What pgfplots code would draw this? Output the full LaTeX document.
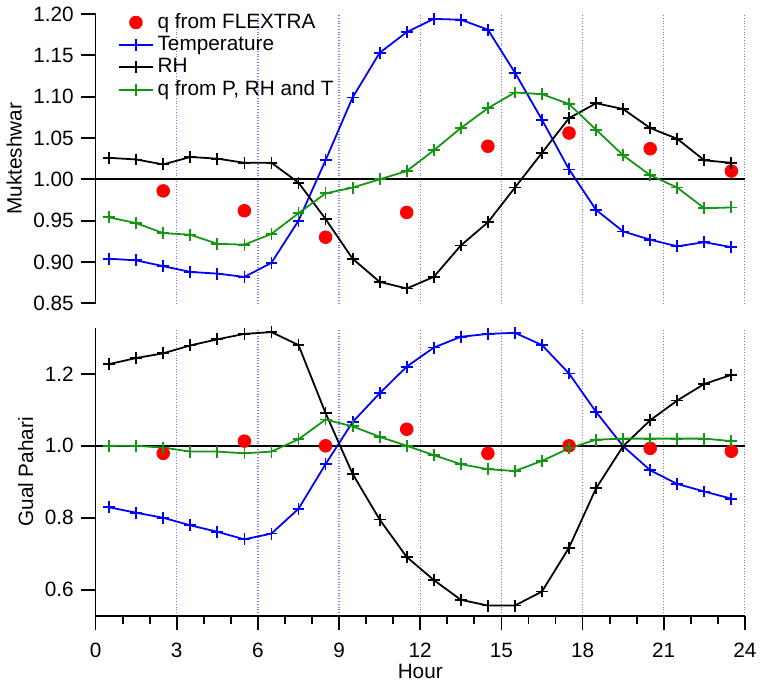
\documentclass[border=0pt]{standalone}
\usepackage{pgfplots}
\pgfplotsset{compat=1.18}
\usepackage{fontspec}
\setmainfont{Liberation Sans}
\definecolor{qgreen}{RGB}{20,150,20}
\definecolor{gridblue}{RGB}{120,120,255}

% top panel: Mukteshwar
\pgfplotstableread{
h    T      RH     q
0.5  0.904  1.026  0.954
1.5  0.902  1.024  0.947
2.5  0.895  1.018  0.935
3.5  0.888  1.027  0.933
4.5  0.886  1.025  0.922
5.5  0.882  1.020  0.921
6.5  0.899  1.020  0.934
7.5  0.950  0.996  0.959
8.5  1.023  0.952  0.983
9.5  1.099  0.904  0.990
10.5 1.153  0.876  1.000
11.5 1.178  0.868  1.010
12.5 1.194  0.882  1.035
13.5 1.193  0.920  1.062
14.5 1.181  0.948  1.086
15.5 1.129  0.990  1.105
16.5 1.072  1.032  1.103
17.5 1.012  1.074  1.091
18.5 0.963  1.092  1.060
19.5 0.937  1.085  1.029
20.5 0.927  1.062  1.005
21.5 0.919  1.049  0.990
22.5 0.924  1.023  0.965
23.5 0.918  1.020  0.966
}\mukdata
\pgfplotstableread{
h    q
2.5  0.986
5.5  0.962
8.5  0.930
11.5 0.960
14.5 1.040
17.5 1.056
20.5 1.037
23.5 1.010
}\mukflex

% bottom panel: Gual Pahari
\pgfplotstableread{
h    T      RH     q
0.5  0.829  1.227  1.000
1.5  0.814  1.244  1.000
2.5  0.800  1.257  0.995
3.5  0.779  1.279  0.984
4.5  0.761  1.296  0.984
5.5  0.740  1.311  0.979
6.5  0.756  1.316  0.984
7.5  0.825  1.280  1.018
8.5  0.949  1.091  1.073
9.5  1.066  0.922  1.054
10.5 1.146  0.795  1.025
11.5 1.220  0.691  1.000
12.5 1.273  0.627  0.974
13.5 1.303  0.572  0.949
14.5 1.311  0.556  0.935
15.5 1.314  0.556  0.930
16.5 1.280  0.595  0.958
17.5 1.201  0.717  0.993
18.5 1.094  0.882  1.017
19.5 0.999  0.999  1.020
20.5 0.932  1.071  1.020
21.5 0.894  1.126  1.020
22.5 0.873  1.172  1.020
23.5 0.853  1.197  1.013
}\guadata
\pgfplotstableread{
h    q
2.5  0.979
5.5  1.013
8.5  1.000
11.5 1.046
14.5 0.979
17.5 1.000
20.5 0.993
23.5 0.985
}\guaflex

\begin{document}
\begin{tikzpicture}
\pgfplotsset{
  panel/.style={
    width=327.5bp, scale only axis,
    xmin=0, xmax=24,
    axis lines*=left,
    axis line style={line width=0.9bp},
    tick align=outside,
    tick style={black, line width=0.9bp},
    major tick length=7.5bp, minor tick length=4bp,
    xmajorgrids,
    major x grid style={gridblue, densely dotted, line width=0.6bp},
    tick label style={font=\fontsize{10.5}{12}\selectfont},
    label style={font=\fontsize{10.5}{12}\selectfont},
    /pgf/number format/assume math mode=true,
    clip=false,
  },
  tser/.style={blue, line width=0.9bp, mark=+, mark size=3bp, mark options={solid}},
  rser/.style={black, line width=0.9bp, mark=+, mark size=3bp},
  qser/.style={qgreen, line width=0.9bp, mark=+, mark size=3bp},
  fser/.style={only marks, mark=*, mark size=3.2bp, red, mark options={draw=red, fill=red}},
}
\begin{axis}[panel, name=top, at={(0,157.5bp)}, anchor=south west,
  height=146bp, ymin=0.85, ymax=1.20,
  ytick={0.85,0.90,...,1.21},
  yticklabel style={/pgf/number format/.cd, fixed, fixed zerofill, precision=2},
  xtick={3,6,...,24}, xticklabels={},
  x axis line style={draw=none}, major x tick style={draw=none},
  ylabel={Mukteshwar}, ylabel style={yshift=-1bp},
  legend style={draw=none, fill=none, at={(0.025,1.03)}, anchor=north west,
    font=\fontsize{10.5}{12}\selectfont, row sep=-1.5bp,
    legend cell align=left},
]
\addplot[black, line width=1bp, forget plot] coordinates {(0,1) (24,1)};
\addplot[fser] table[x=h, y=q] {\mukflex};
\addplot[tser] table[x=h, y=T] {\mukdata};
\addplot[rser] table[x=h, y=RH] {\mukdata};
\addplot[qser] table[x=h, y=q] {\mukdata};
\legend{q from FLEXTRA, Temperature, RH, {q from P, RH and T}}
\end{axis}
\begin{axis}[panel, name=bot, at={(0,0)}, anchor=south west,
  height=145bp, ymin=0.528, ymax=1.327,
  ytick={0.6,0.8,1.0,1.2},
  yticklabel style={/pgf/number format/.cd, fixed, fixed zerofill, precision=1},
  xtick={0,3,...,24}, minor x tick num=2,
  xticklabel style={yshift=-3bp},
  ylabel={Gual Pahari}, ylabel style={yshift=-1bp},
  xlabel={Hour}, xlabel style={yshift=4bp},
]
\addplot[black, line width=1bp, forget plot] coordinates {(0,1) (24,1)};
\addplot[fser] table[x=h, y=q] {\guaflex};
\addplot[tser] table[x=h, y=T] {\guadata};
\addplot[rser] table[x=h, y=RH] {\guadata};
\addplot[qser] table[x=h, y=q] {\guadata};
\end{axis}
\end{tikzpicture}
\end{document}
